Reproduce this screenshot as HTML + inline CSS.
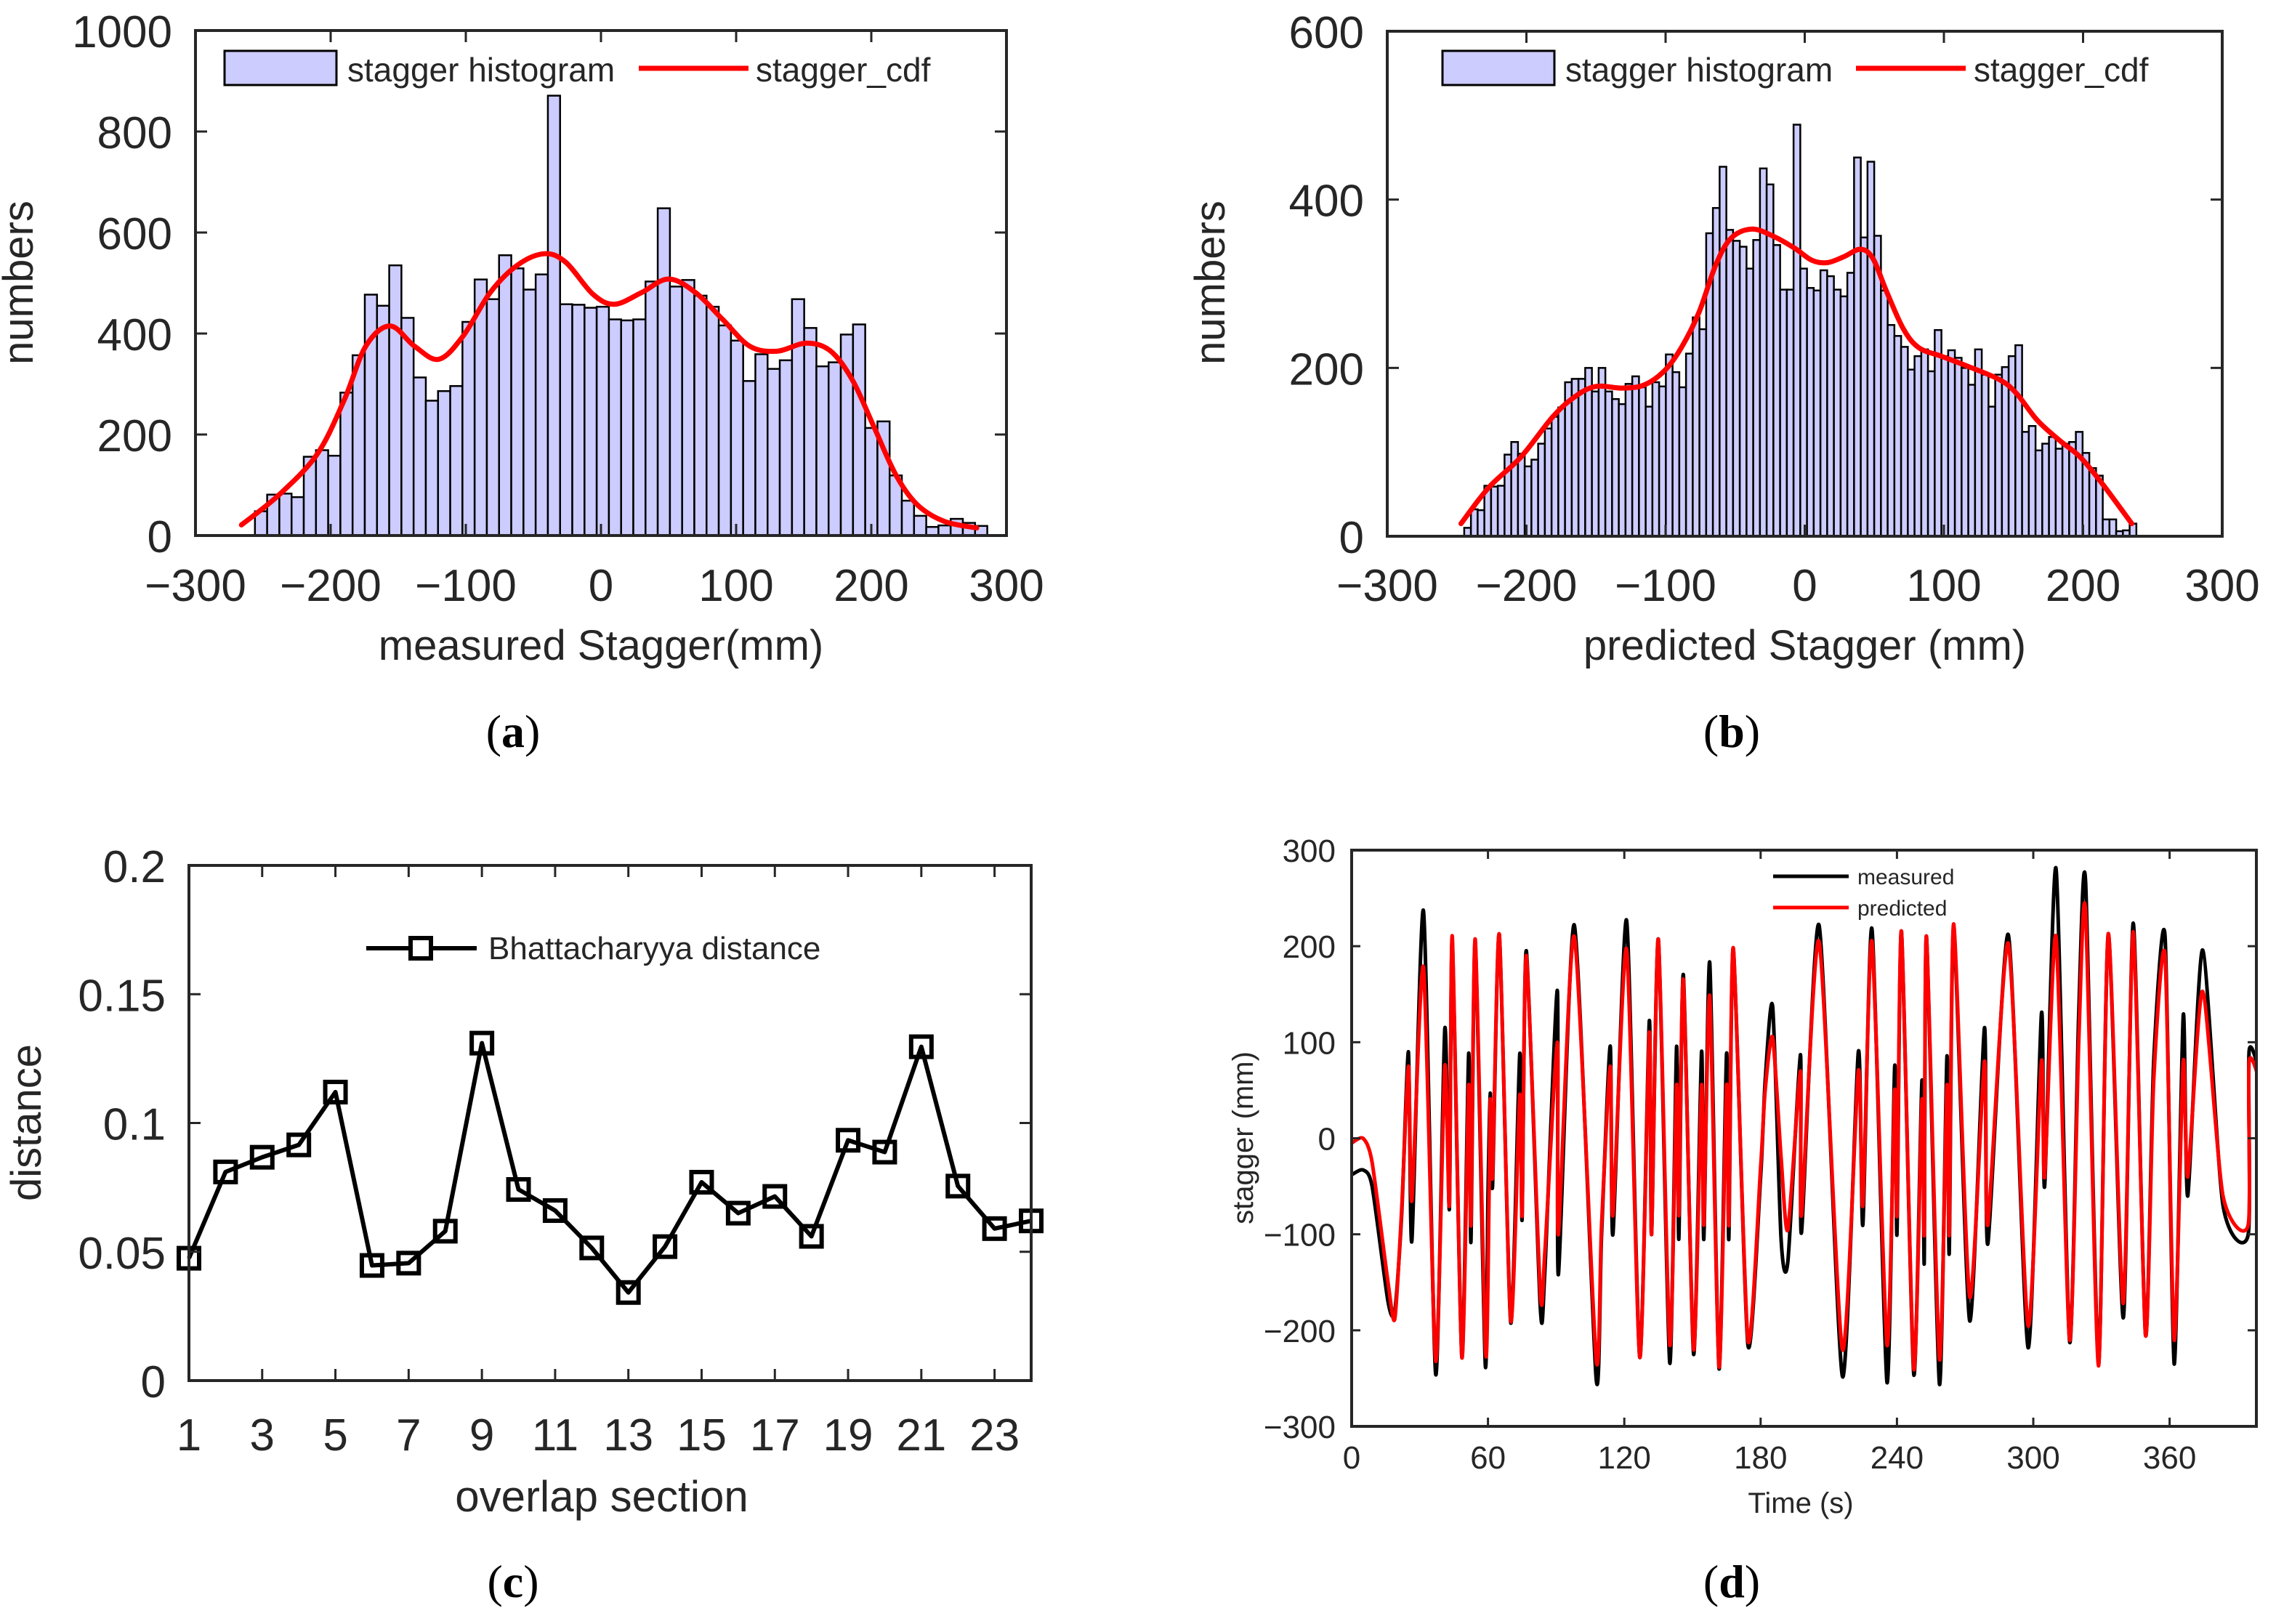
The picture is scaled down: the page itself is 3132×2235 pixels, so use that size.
<!DOCTYPE html>
<html><head><meta charset="utf-8"><style>
html,body{margin:0;padding:0;background:#fff;}
svg{display:block;}
text{font-family:"Liberation Sans",sans-serif;fill:#262626;}
.cap{font-family:"Liberation Serif",serif;fill:#000;}
</style></head><body>
<svg id="fig" width="3132" height="2235" viewBox="0 0 3132 2235" xmlns="http://www.w3.org/2000/svg"></svg>
<script>
// ---- Panel (a) data ----
const aBinStart = -256;
const aBinWidth = 9.03;
const aCounts = [48,81,83,76,156,169,158,283,357,477,455,535,431,313,267,286,296,423,507,468,555,529,487,517,871,458,457,451,453,428,426,428,503,648,493,506,475,453,416,386,306,359,330,347,468,411,335,343,398,418,213,226,119,69,39,17,20,33,25,19];
const aCurveX = [-266,-238,-210,-190,-174,-156,-138,-120,-102,-82,-62,-42,-26,-6,10,30,50,70,90,110,130,152,170,186,202,218,234,254,278];
const aCurveY = [21,81,161,268,375,415,375,349,395,481,535,558,541,478,458,481,508,481,428,375,365,381,365,308,215,121,61,28,15];
const aXTicks = [-300,-200,-100,0,100,200,300];
const aYTicks = [0,200,400,600,800,1000];
// ---- Panel (b) data ----
const bBinStart = -244.7;
const bBinWidth = 4.83;
const bCounts = [10,32,31,60,59,60,97,112,98,83,91,110,128,142,153,183,187,187,200,172,200,172,163,157,181,190,177,154,183,178,216,195,177,217,260,246,360,390,439,364,351,344,318,352,437,418,346,293,293,489,318,295,292,316,309,293,285,313,450,355,445,357,292,251,238,225,198,214,222,196,245,214,221,212,200,180,222,192,154,192,201,214,227,124,131,102,110,118,104,110,112,124,99,81,72,20,20,6,7,15];
const bCurveX = [-247,-227,-204,-181,-165,-150,-131,-115,-100,-88,-76,-64,-53,-38,-22,-7,5,16,28,40,49,59,71,82,98,117,140,152,167,183,198,214,235];
const bCurveY = [15,58,94,142,166,178,176,180,198,226,266,322,354,365,356,342,328,325,332,341,330,290,246,224,214,202,186,170,138,114,94,62,15];
const bXTicks = [-300,-200,-100,0,100,200,300];
const bYTicks = [0,200,400,600];
// ---- Panel (c) data ----
const cSections = [1,2,3,4,5,6,7,8,9,10,11,12,13,14,15,16,17,18,19,20,21,22,23,24];
const cDistance = [0.0475,0.081,0.0867,0.0915,0.112,0.0447,0.0456,0.058,0.131,0.0742,0.066,0.0515,0.0342,0.052,0.077,0.065,0.0715,0.056,0.0933,0.0887,0.1296,0.0755,0.059,0.062];
const cXTicks = [1,3,5,7,9,11,13,15,17,19,21,23];
const cYTicks = [0,0.05,0.1,0.15,0.2];
const cYLabels = ["0","0.05","0.1","0.15","0.2"];
// ---- Panel (d) data ----
const dTime = [0,5,9,16,19,22,25,26.5,31.6,37,41,43,44.3,48.5,51.5,52.5,54.4,58.8,60,61,62,65,70,74,75,76.9,83,85,90.5,91,98,107.6,110,113.8,115,121,126.8,131,132,135,140,143,144,146,150.5,154,155,157.6,161.7,165,166,168,174.4,180,182,185.3,189,192,197.5,198,205.7,216,223,225,229,235.6,239,240,242,247.4,251,252,253,258.7,262,263,265,272,278.5,280,289,297.7,303.6,305,310,316,320,323,328.7,333,339.6,344,349.4,353,358,362,366,368,374.5,383.5,394.6,395,401];
const dMeasured = [-38,-33,-50,-170,-180,-80,90,-107,237,-246,114,-74,205,-228,88,-108,205,-235,-60,47,-50,212,-192,88,-85,195,-175,-140,154,-142,222,-250,-100,96,-100,227,-228,122,-100,207,-234,95,-105,170,-225,90,-105,183,-240,88,-105,197,-215,-40,60,137,-105,-128,87,-98,222,-248,90,-90,218,-254,75,-100,215,-246,60,-130,210,-256,85,-120,220,-190,115,-110,212,-218,130,-50,281,-212,130,268,-235,213,-187,224,-205,80,210,-235,128,-60,196,-70,-100,91,55];
const dPredicted = [-5,0,-25,-150,-188,-75,75,-65,178,-232,75,-70,210,-228,55,-90,207,-215,-150,40,-40,212,-190,45,-80,190,-160,-120,100,-100,210,-230,-90,75,-80,197,-228,110,-100,207,-215,55,-80,165,-220,55,-90,148,-238,55,-90,198,-210,-30,50,105,-20,-95,70,-80,205,-220,70,-70,205,-215,50,-80,215,-240,40,-100,210,-230,55,-100,223,-165,80,-90,203,-195,80,-40,210,-210,100,237,-237,213,-172,215,-205,60,190,-210,80,-40,153,-60,-90,80,48];
const dXTicks = [0,60,120,180,240,300,360];
const dYTicks = [-300,-200,-100,0,100,200,300];

const NS = "http://www.w3.org/2000/svg";
const svg = document.getElementById('fig');
function mk(tag, attrs, parent){
  const e = document.createElementNS(NS, tag);
  for (const k in attrs) e.setAttribute(k, attrs[k]);
  (parent||svg).appendChild(e);
  return e;
}
function txt(s, x, y, size, anchor, parent, extra){
  const t = mk('text', Object.assign({x:x, y:y, 'font-size':size, 'text-anchor':anchor||'middle'}, extra||{}), parent);
  t.textContent = s;
  return t;
}
function fmt(v){ return v<0 ? '\u2212'+Math.abs(v) : String(v); }
function lin(d0,d1,p0,p1){ return v => p0 + (v-d0)/(d1-d0)*(p1-p0); }
function smoothPath(P, k){
  k = k||1/6;
  let d = 'M'+P[0][0]+','+P[0][1];
  for (let i=0;i<P.length-1;i++){
    const p0=P[Math.max(0,i-1)], p1=P[i], p2=P[i+1], p3=P[Math.min(P.length-1,i+2)];
    const c1x=p1[0]+(p2[0]-p0[0])*k, c1y=p1[1]+(p2[1]-p0[1])*k;
    const c2x=p2[0]-(p3[0]-p1[0])*k, c2y=p2[1]-(p3[1]-p1[1])*k;
    d += ' C'+c1x+','+c1y+' '+c2x+','+c2y+' '+p2[0]+','+p2[1];
  }
  return d;
}

function axesBox(g, L, T, R, B, xTicks, yTicks, sx, sy, tl){
  for (const v of xTicks){
    const x = sx(v);
    const t1 = mk('line',{x1:x,y1:B,x2:x,y2:B-tl,stroke:'#262626','stroke-width':3},g);
    
    
    mk('line',{x1:x,y1:T,x2:x,y2:T+tl,stroke:'#262626','stroke-width':3},g);
  }
  for (const v of yTicks){
    const y = sy(v);
    const t2 = mk('line',{x1:L,y1:y,x2:L+tl,y2:y,stroke:'#262626','stroke-width':3},g);
    
    
    mk('line',{x1:R,y1:y,x2:R-tl,y2:y,stroke:'#262626','stroke-width':3},g);
  }
  const box = mk('rect',{x:L,y:T,width:R-L,height:B-T,fill:'none',stroke:'#262626','stroke-width':4},g);
  
  
}

function histPanel(id, L,T,R,B, yMax, start, w, counts, cx, cy, xTicks, yTicks, xTitle, leg){
  const g = mk('g',{});
  
  
  const sx = lin(-300,300,L,R), sy = lin(0,yMax,B,T);
  counts.forEach((c,i)=>{
    const x0 = sx(start+i*w), x1 = sx(start+(i+1)*w);
    const r = mk('rect',{x:x0,y:sy(c),width:x1-x0,height:B-sy(c),fill:'#ccccff',stroke:'#000','stroke-width':2.5},g);
    
    
  });
  const P = cx.map((v,i)=>[sx(v), sy(cy[i])]);
  const pl = mk('path',{d:smoothPath(P),fill:'none',stroke:'#ff0000','stroke-width':7,'stroke-linejoin':'round','stroke-linecap':'round'},g);
  
  
  axesBox(g,L,T,R,B,xTicks,yTicks,sx,sy,16);
  for (const v of xTicks){
    const t = txt(fmt(v), sx(v), 827, 62, 'middle', g);
    
    
  }
  for (const v of yTicks){
    const t = txt(String(v), L-32, sy(v)+23, 62, 'end', g);
    
    
  }
  const xt = txt(xTitle, (L+R)/2, 908, 58, 'middle', g);
  
  
  const yt = txt('numbers', 0, 0, 58, 'middle', g, {transform:'translate('+(L-224)+',389) rotate(-90)'});
  
  
  const lg = mk('g',{},g);
  
  
  const p = mk('rect',{x:leg[0],y:70,width:154,height:47,fill:'#ccccff',stroke:'#000','stroke-width':3},lg);
  
  
  const t1 = txt('stagger histogram', leg[1], 112, 46, 'start', lg);
  
  
  const ln = mk('line',{x1:leg[2],y1:94,x2:leg[2]+151,y2:94,stroke:'#ff0000','stroke-width':7},lg);
  
  
  const t2 = txt('stagger_cdf', leg[3], 112, 46, 'start', lg);
  
  
}

histPanel('panel-a-measured-histogram', 269,42,1385,737, 1000, aBinStart, aBinWidth, aCounts, aCurveX, aCurveY, aXTicks, aYTicks, 'measured Stagger(mm)', [309,478,879,1040]);
histPanel('panel-b-predicted-histogram', 1909,43,3058,738, 600, bBinStart, bBinWidth, bCounts, bCurveX, bCurveY, bXTicks, bYTicks, 'predicted Stagger (mm)', [1985,2154,2554,2716]);

// ---- Panel c ----
(function(){
  const L=260,T=1191,R=1419,B=1900;
  const g = mk('g',{});
  
  
  const sx = lin(1,24,L,R), sy = lin(0,0.2,B,T);
  const pts = cSections.map((s,i)=>sx(s)+','+sy(cDistance[i])).join(' ');
  const pl = mk('polyline',{points:pts,fill:'none',stroke:'#000','stroke-width':6,'stroke-linejoin':'round'},g);
  
  
  cSections.forEach((s,i)=>{
    const m = mk('rect',{x:sx(s)-14,y:sy(cDistance[i])-14,width:28,height:28,fill:'none',stroke:'#000','stroke-width':6},g);
    
    
  });
  axesBox(g,L,T,R,B,cXTicks,cYTicks,sx,sy,16);
  cXTicks.forEach(v=>{
    const t = txt(String(v), sx(v), 1996, 62, 'middle', g);
    
    
  });
  cYTicks.forEach((v,i)=>{
    const t = txt(cYLabels[i], 228, sy(v)+23, 62, 'end', g);
    
    
  });
  const xt = txt('overlap section', 828, 2080, 60, 'middle', g);
  
  
  const yt = txt('distance', 0, 0, 58, 'middle', g, {transform:'translate(56,1545) rotate(-90)'});
  
  
  const lg = mk('g',{},g);
  
  
  mk('line',{x1:504,y1:1305,x2:656,y2:1305,stroke:'#000','stroke-width':6},lg);
  mk('rect',{x:565,y:1291,width:28,height:28,fill:'#fff',stroke:'#000','stroke-width':6},lg);
  const lt = txt('Bhattacharyya distance', 672, 1320, 44, 'start', lg);
  
  
})();

// ---- Panel d ----
(function(){
  const L=1860,T=1170,R=3105,B=1963;
  const g = mk('g',{});
  
  
  const sx = lin(0,60,L,L+187.6), sy = lin(-300,300,B,T);
  const clip = mk('clipPath',{id:'dclip'},g);
  mk('rect',{x:L,y:T,width:R-L,height:B-T},clip);
  const pm = mk('path',{d:smoothPath(dTime.map((t,i)=>[sx(t),sy(dMeasured[i])]),0.12),fill:'none',stroke:'#000','stroke-width':5,'stroke-linejoin':'round','clip-path':'url(#dclip)'},g);
  
  
  const pp = mk('path',{d:smoothPath(dTime.map((t,i)=>[sx(t),sy(dPredicted[i])]),0.12),fill:'none',stroke:'#ff0000','stroke-width':5,'stroke-linejoin':'round','clip-path':'url(#dclip)'},g);
  
  
  axesBox(g,L,T,R,B,dXTicks,dYTicks,sx,sy,12);
  dXTicks.forEach(v=>{
    const t = txt(String(v), sx(v), 2021, 44, 'middle', g);
    
    
  });
  dYTicks.forEach(v=>{
    const t = txt(fmt(v), 1838, sy(v)+16, 44, 'end', g);
    
    
  });
  const xt = txt('Time (s)', 2478, 2082, 40, 'middle', g);
  
  
  const yt = txt('stagger (mm)', 0, 0, 40, 'middle', g, {transform:'translate(1724,1566) rotate(-90)'});
  
  
  const lg = mk('g',{},g);
  
  
  mk('line',{x1:2440,y1:1206,x2:2544,y2:1206,stroke:'#000','stroke-width':5},lg);
  const t1 = txt('measured', 2556, 1217, 30, 'start', lg);
  
  
  mk('line',{x1:2440,y1:1249,x2:2544,y2:1249,stroke:'#ff0000','stroke-width':5},lg);
  const t2 = txt('predicted', 2556, 1260, 30, 'start', lg);
  
  
})();

// captions
[['(a)',706,1028],['(b)',2383,1028],['(c)',706,2198],['(d)',2383,2198]].forEach(c=>{
  const t = mk('text',{x:c[1],y:c[2],'font-size':64,'text-anchor':'middle',class:'cap'});
  
  
  const o = document.createElementNS(NS,'tspan'); o.textContent='('; t.appendChild(o);
  const b = document.createElementNS(NS,'tspan'); b.setAttribute('font-weight','bold'); b.textContent=c[0][1]; t.appendChild(b);
  const e = document.createElementNS(NS,'tspan'); e.textContent=')'; t.appendChild(e);
});
</script>
</body></html>
